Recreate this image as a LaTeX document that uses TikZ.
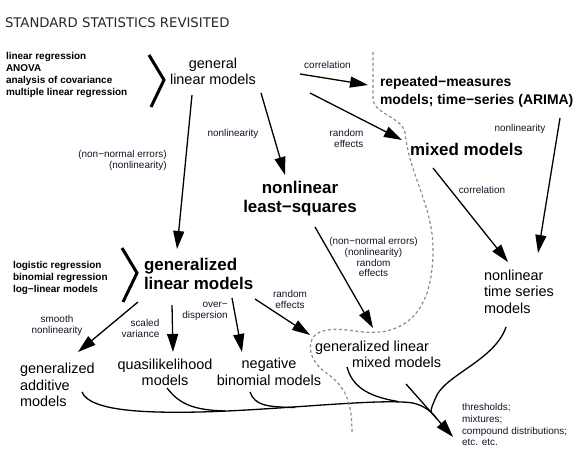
\documentclass[tikz,border=0pt]{standalone}
\usepackage{fontspec}
\setmainfont{Liberation Sans}
\newfontfamily\titlefont{DejaVu Sans}
\usetikzlibrary{arrows.meta}
\definecolor{labcol}{RGB}{20,20,40}
\definecolor{dashgray}{RGB}{140,140,140}
\begin{document}
\begin{tikzpicture}[x=1bp,y=-1bp,
  every node/.style={inner sep=0pt, outer sep=0pt},
  big/.style={font=\fontsize{14.5}{16.5}\selectfont, text=black},
  bigbold/.style={font=\bfseries\fontsize{17}{19.5}\selectfont},
  medbold/.style={font=\bfseries\fontsize{14}{18}\selectfont},
  listtext/.style={font=\bfseries\fontsize{10}{12.3}\selectfont, align=left},
  lab/.style={font=\fontsize{10}{11}\selectfont, text=labcol},
  arr/.style={line width=1.3bp, -{Triangle[length=18bp,width=11bp]}},
  flow/.style={line width=1.3bp},
  brace/.style={line width=3bp},
  border/.style={dashgray, line width=1.2bp, dash pattern=on 3bp off 2.5bp}]
\useasboundingbox (0,0) rectangle (580,454);

% texts
\node[font=\titlefont\fontsize{13.3}{16}\selectfont, text=black!85, anchor=west] (title) at (5,23) {STANDARD STATISTICS REVISITED};
\node[listtext, anchor=west] (list1) at (6,75) {linear regression\\ANOVA\\analysis of covariance\\multiple linear regression};
\node[big, align=center] (gen) at (213,71.5) {general\\linear models};
\node[medbold, align=left, anchor=west] (rm) at (380,92) {repeated−measures\\models; time−series (ARIMA)};
\node[bigbold, anchor=west] (mixed) at (410,149) {mixed models};
\node[bigbold, align=center] (nls) at (300,198.5) {nonlinear\\least−squares};
\node[bigbold, align=left, anchor=west] (glm) at (144,274) {generalized\\linear models};
\node[listtext, anchor=west] (list2) at (13,278) {logistic regression\\binomial regression\\log−linear models};
\node[big, align=left, anchor=west] (gam) at (20,385) {generalized\\additive\\models};
\node[big, align=center] (quasi) at (165,372.5) {quasilikelihood\\models};
\node[big, align=center] (nb) at (269,372) {negative\\binomial models};
\node[big, align=left, anchor=west] (glmm) at (315,354.5) {generalized linear\\\hspace*{37bp}mixed models};
\node[big, align=left, anchor=west] (nlts) at (484,291.5) {nonlinear\\time series\\models};
\node[lab, font=\fontsize{10}{12}\selectfont, align=left, anchor=west] (other) at (462,424.5) {thresholds;\\mixtures;\\compound distributions;\\etc. etc.};

% labels
\node[lab] (lcorr1) at (327.5,65) {correlation};
\node[lab, align=right] (lre1) at (346.5,138.5) {random\\effects};
\node[lab] (lnl1) at (233,134) {nonlinearity};
\node[lab, align=right] (lnn1) at (122.5,160) {(non−normal errors)\\(nonlinearity)};
\node[lab] (lnl2) at (520,129) {nonlinearity};
\node[lab] (lcorr2) at (482,190) {correlation};
\node[lab, align=center] (lnn2) at (373.5,257) {(non−normal errors)\\(nonlinearity)\\random\\effects};
\node[lab, align=center] (lsm) at (57,325) {smooth\\nonlinearity};
\node[lab, align=right] (lsv) at (140.5,328.5) {scaled\\variance};
\node[lab, align=right] (lod) at (205,311.5) {over−\\dispersion};
\node[lab, align=center] (lre2) at (290,299.5) {random\\effects};

% braces
\draw[brace] (149,55) -- (164,80) -- (151,107);
\draw[brace] (122,248) -- (137,273) -- (123,302);

% connector end points
\coordinate (genA) at (192,95);   \coordinate (glmT) at (177,249);
\coordinate (genB) at (261,93);   \coordinate (nlsT) at (285,175);
\coordinate (genC) at (300,74);   \coordinate (rmT) at (368,85);
\coordinate (genD) at (310,93);   \coordinate (mixedT) at (402,140);
\coordinate (rmA) at (560,118);   \coordinate (nltsT1) at (538,253);
\coordinate (mixedA) at (433,168);\coordinate (nltsT2) at (508,262);
\coordinate (nlsA) at (315,227);  \coordinate (glmmT1) at (373,328);
\coordinate (glmA) at (138,302);  \coordinate (gamT) at (78,352);
\coordinate (glmB) at (172,305);  \coordinate (quasiT) at (173,352);
\coordinate (glmC) at (232,298);  \coordinate (nbT) at (242,352);
\coordinate (glmD) at (255,299);  \coordinate (glmmT2) at (310,335);
\coordinate (fork) at (406,384);  \coordinate (otherT) at (453,437);
\coordinate (merge) at (437,419);
\coordinate (gamA) at (82,392);
\coordinate (quasiA) at (167,388);
\coordinate (nbA) at (250,392);
\coordinate (glmmA) at (347,367);
\coordinate (nltsA) at (506,327);

\draw[arr] (genA) -- (glmT);
\draw[arr] (genB) -- (nlsT);
\draw[arr] (genC) -- (rmT);
\draw[arr] (genD) -- (mixedT);
\draw[arr] (rmA) -- (nltsT1);
\draw[arr] (mixedA) -- (nltsT2);
\draw[arr] (nlsA) -- (glmmT1);
\draw[arr] (glmA) -- (gamT);
\draw[arr] (glmB) -- (quasiT);
\draw[arr] (glmC) -- (nbT);
\draw[arr] (glmD) -- (glmmT2);
\draw[arr] (fork) -- (otherT);

% merging curves
\draw[flow] (gamA) .. controls (90,412) and (150,413) .. (200,412)
  .. controls (280,410) and (380,398) .. (413,403)
  .. controls (425,406) and (432,412) .. (merge);
\draw[flow] (quasiA) .. controls (180,405) and (195,410) .. (225,411);
\draw[flow] (nbA) .. controls (255,405) and (265,407) .. (295,407.5);
\draw[flow] (glmmA) .. controls (352,385) and (365,396) .. (398,401.5);
\draw[flow] (nltsA) .. controls (495,360) and (445,375) .. (436,397)
  .. controls (433,404) and (431,408) .. (431,412);

% boundary
\draw[border] (373,52) -- (373,100) .. controls (374,113) and (402,118) .. (405,132)
  .. controls (409,175) and (433,205) .. (433,250)
  .. controls (433,300) and (415,328) .. (380,332)
  .. controls (355,334) and (340,325) .. (320,332)
  .. controls (305,338) and (308,360) .. (325,372)
  .. controls (345,386) and (352,400) .. (352,433);
\end{tikzpicture}
\end{document}
